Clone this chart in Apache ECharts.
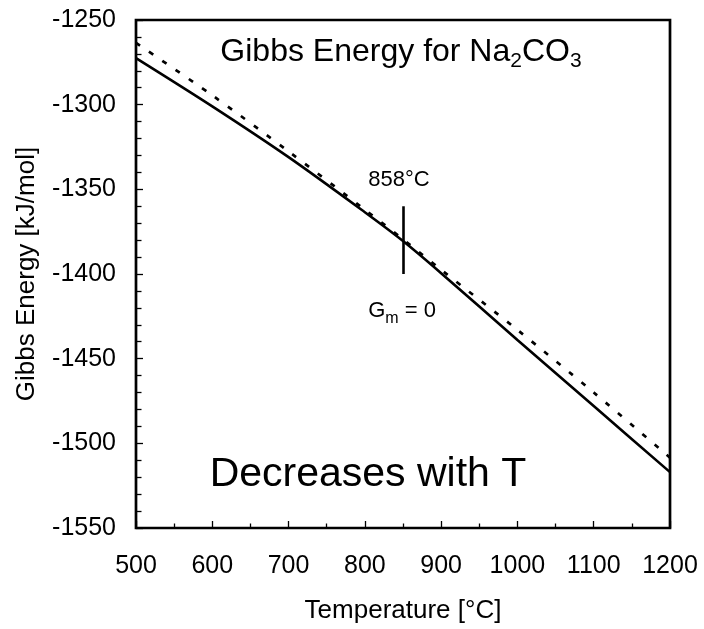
<!DOCTYPE html>
<html>
<head>
<meta charset="utf-8">
<script src="https://cdn.jsdelivr.net/npm/echarts@6/dist/echarts.min.js"></script>
<style>html,body{margin:0;padding:0;background:#fff}#c{width:704px;height:629px}</style>
</head>
<body>
<div id="c"></div>
<script>
// Data
const temperatures = [500, 600, 700, 800, 850, 900, 1000, 1100, 1200];
const gibbsStable = [-1272.5, -1301, -1331, -1363.5, -1380.5, -1399.5, -1439, -1478, -1517];
const gibbsOther = [-1263.5, -1294.5, -1327.6, -1362, -1379.5, -1397.5, -1433, -1470, -1508.5];
const markerT = 850;
const markerRange = [-1360, -1400];
const xTicks = { min: 500, max: 1200, step: 100 };
const yTicks = { min: -1550, max: -1250, step: 50 };

const FONT = '"Liberation Sans", Arial, sans-serif';
const chart = echarts.init(document.getElementById('c'), null, { renderer: 'canvas' });

function pairs(xs, ys) { return xs.map((x, i) => [x, ys[i]]); }
const plain = v => String(v);

chart.setOption({
  animation: false,
  backgroundColor: '#fff',
  grid: { left: 136, top: 20, right: 34, bottom: 101, show: true, borderColor: '#000', borderWidth: 2.7, backgroundColor: 'transparent' },
  xAxis: {
    type: 'value', min: xTicks.min, max: xTicks.max, interval: xTicks.step,
    name: 'Temperature [°C]', nameLocation: 'middle', nameGap: 70,
    nameTextStyle: { fontFamily: FONT, fontSize: 26, color: '#000' },
    axisLine: { show: false },
    axisTick: { show: true, inside: true, length: 7, lineStyle: { color: '#000', width: 1.3 } },
    minorTick: { show: true, splitNumber: 2, length: 4.5, lineStyle: { color: '#000', width: 1.3 } },
    splitLine: { show: false },
    axisLabel: { fontFamily: FONT, fontSize: 25, color: '#000', margin: 26, formatter: plain }
  },
  yAxis: {
    type: 'value', min: yTicks.min, max: yTicks.max, interval: yTicks.step,
    name: 'Gibbs Energy [kJ/mol]', nameLocation: 'middle', nameGap: 96,
    nameTextStyle: { fontFamily: FONT, fontSize: 26, color: '#000' },
    axisLine: { show: false },
    axisTick: { show: true, inside: true, length: 7, lineStyle: { color: '#000', width: 1.3 } },
    minorTick: { show: true, splitNumber: 5, length: 5.5, lineStyle: { color: '#000', width: 1.3 } },
    splitLine: { show: false },
    axisLabel: { fontFamily: FONT, fontSize: 25, color: '#000', margin: 20, formatter: plain }
  },
  series: [
    {
      type: 'line', data: pairs(temperatures, gibbsOther), showSymbol: false, smooth: 0.3,
      lineStyle: { color: '#000', width: 2.7, type: [5, 11] }, z: 2
    },
    {
      type: 'line', data: pairs(temperatures, gibbsStable), showSymbol: false, smooth: 0.3,
      lineStyle: { color: '#000', width: 2.6 }, z: 3,
      markLine: {
        silent: true, symbol: 'none', label: { show: false },
        lineStyle: { color: '#000', width: 2.6, type: 'solid' },
        data: [[{ coord: [markerT, markerRange[0]] }, { coord: [markerT, markerRange[1]] }]]
      }
    }
  ],
  graphic: [
    {
      type: 'text', x: 401, y: 52, z: 10,
      style: {
        text: '{a|Gibbs Energy for Na}{s|2}{a|CO}{s|3}',
        align: 'center', verticalAlign: 'middle',
        rich: {
          a: { fontFamily: FONT, fontSize: 32, lineHeight: 40, fill: '#000', verticalAlign: 'middle' },
          s: { fontFamily: FONT, fontSize: 21, lineHeight: 40, fill: '#000', verticalAlign: 'middle', padding: [18, 0, 0, 0] }
        }
      }
    },
    {
      type: 'text', x: 399, y: 180, z: 10,
      style: { text: '858°C', font: '22px ' + FONT, fill: '#000', align: 'center', verticalAlign: 'middle' }
    },
    {
      type: 'text', x: 402, y: 311, z: 10,
      style: {
        text: '{a|G}{s|m}{a| = 0}',
        align: 'center', verticalAlign: 'middle',
        rich: {
          a: { fontFamily: FONT, fontSize: 22, lineHeight: 30, fill: '#000', verticalAlign: 'middle' },
          s: { fontFamily: FONT, fontSize: 16, lineHeight: 30, fill: '#000', verticalAlign: 'middle', padding: [16, 0, 0, 0] }
        }
      }
    },
    {
      type: 'text', x: 368, y: 475, z: 10,
      style: { text: 'Decreases with T', font: '41px ' + FONT, fill: '#000', align: 'center', verticalAlign: 'middle' }
    }
  ]
});
</script>
</body>
</html>
